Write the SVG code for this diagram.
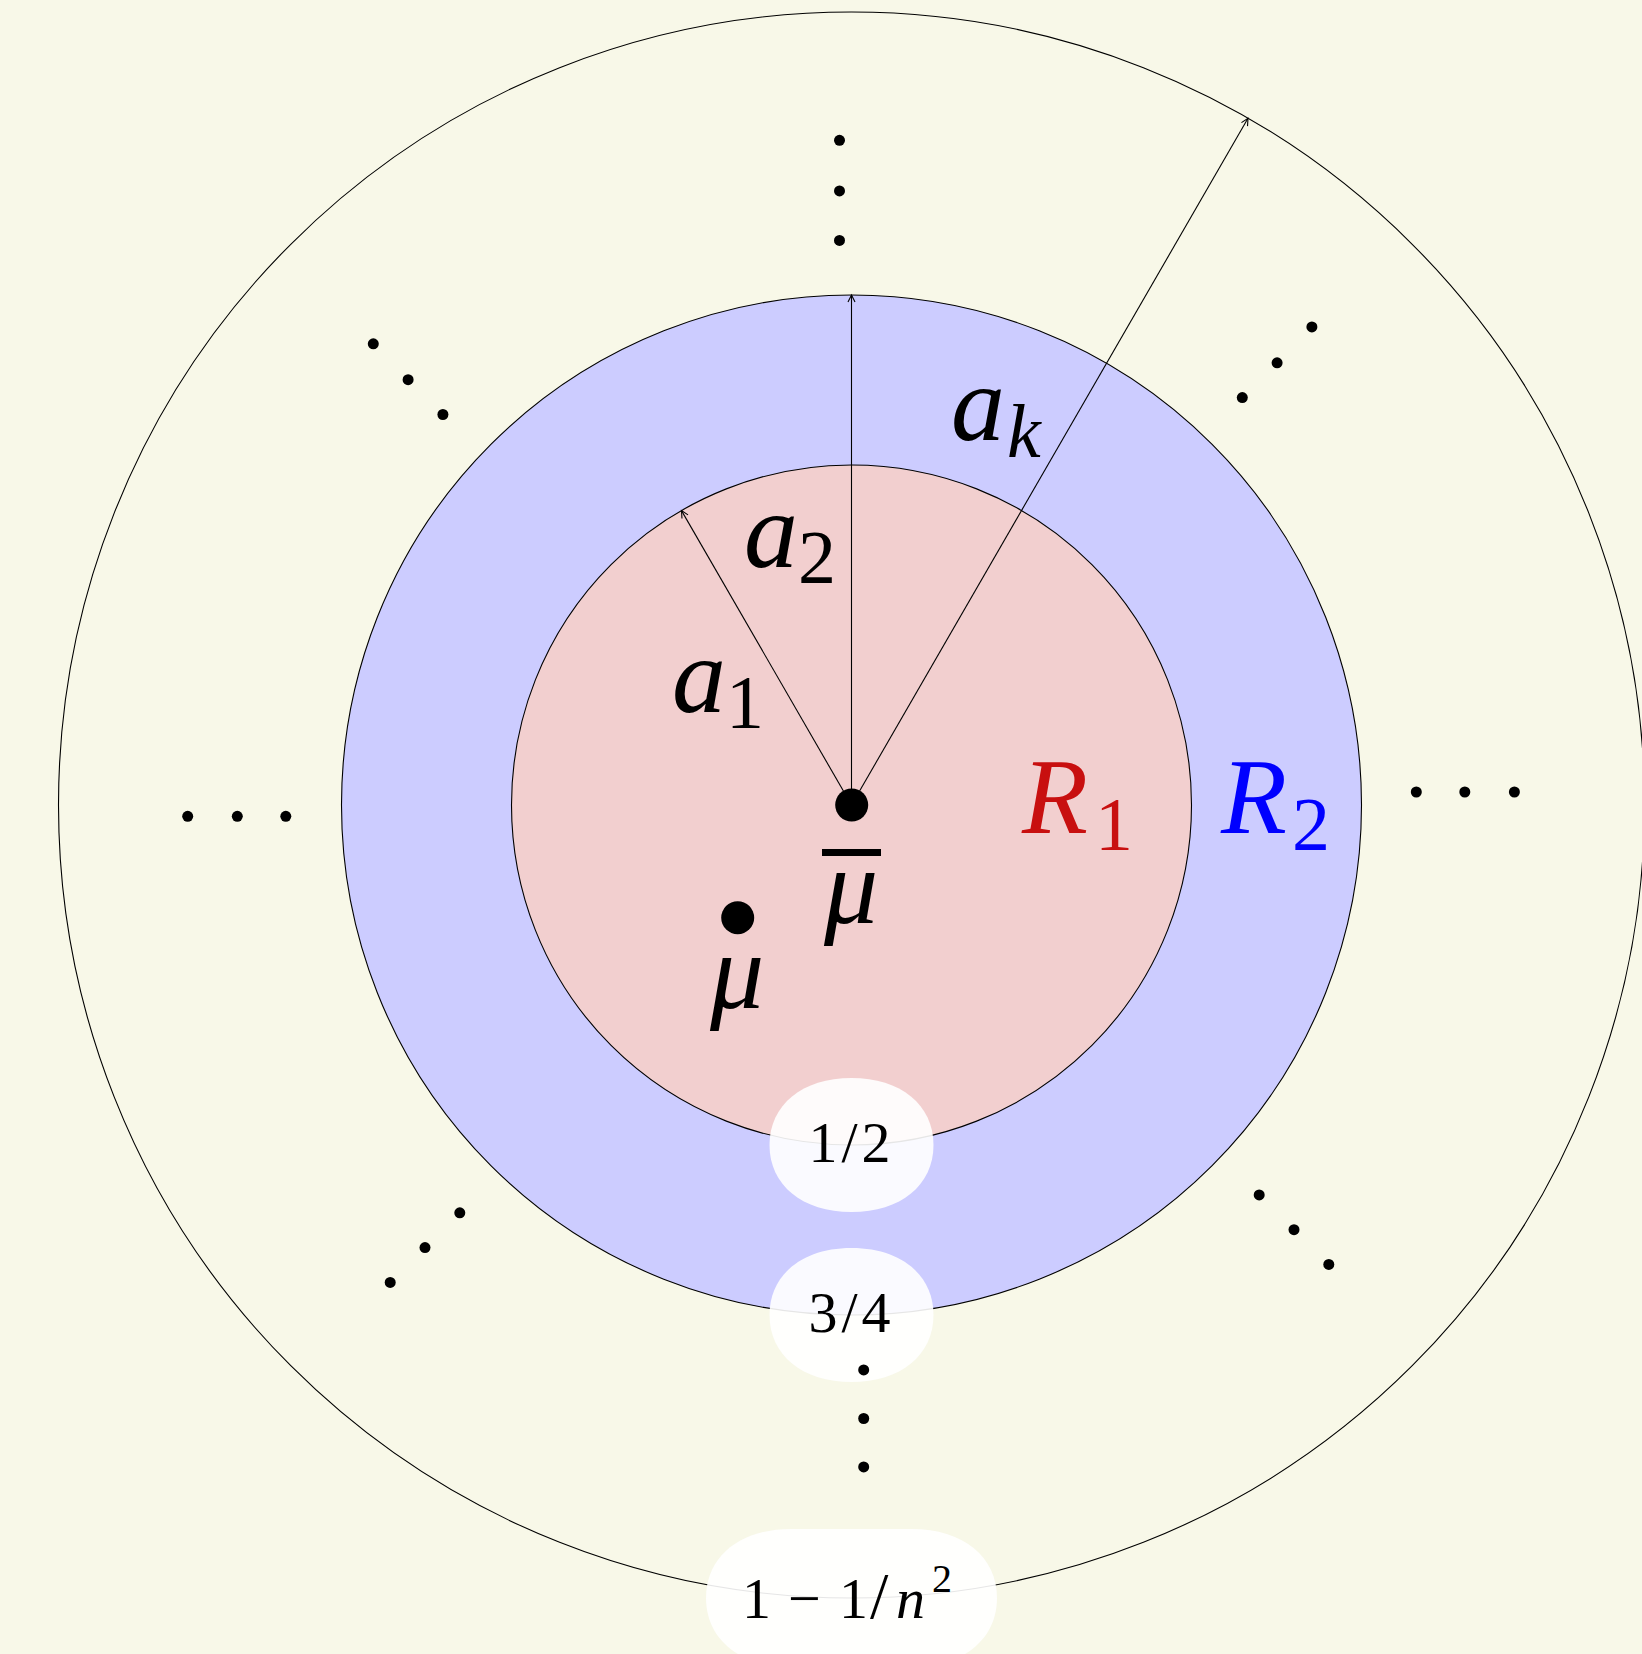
<svg xmlns="http://www.w3.org/2000/svg" width="1642" height="1654" viewBox="0 0 1642 1654">
<defs>
<style>
.ring{stroke:#000;stroke-width:1.1}
.m{font-family:"Liberation Serif","DejaVu Serif",serif;font-style:italic;fill:#000}
.up{font-style:normal}
.dot{fill:#000}
.bub{fill:#fff;fill-opacity:0.9}
.num{font-family:"Liberation Serif","DejaVu Serif",serif;font-size:58px;fill:#000}
.arr{stroke:#000;stroke-width:1.1;fill:none}
</style>
<marker id="ah" markerUnits="userSpaceOnUse" markerWidth="14" markerHeight="14" viewBox="-10 -7 14 14" refX="0" refY="0" orient="auto">
<path d="M-7,-3.5 L0,0 L-7,3.5" fill="none" stroke="#000" stroke-width="1.1"/>
</marker>
</defs>
<rect width="1642" height="1654" fill="#F8F8E8"/>
<g id="outer-circle"><circle class="ring" cx="851.5" cy="805" r="793" fill="none"/></g>
<g id="R2-region"><circle class="ring" cx="851.5" cy="805" r="510" fill="#CCCCFF"/></g>
<g id="R1-region"><circle class="ring" cx="851.5" cy="805" r="340" fill="#F2CFCF"/></g>

<g id="connectors">
<line class="arr" x1="851.5" y1="805" x2="681.5" y2="510.6" marker-end="url(#ah)"/>
<line class="arr" x1="851.5" y1="805" x2="851.5" y2="295" marker-end="url(#ah)"/>
<line class="arr" x1="851.5" y1="805" x2="1248" y2="118.3" marker-end="url(#ah)"/>
</g>

<g id="label-a1"><text class="m" font-size="108" x="672" y="712">a<tspan class="up" font-size="76" dy="16">1</tspan></text></g>
<g id="label-a2"><text class="m" font-size="108" x="744" y="567">a<tspan class="up" font-size="76" dy="16">2</tspan></text></g>
<g id="label-ak"><text class="m" font-size="108" x="951" y="440">a<tspan font-size="76" dx="2" dy="17">k</tspan></text></g>
<g id="label-R1"><text class="m" font-size="108" x="1022" y="833" style="fill:#C80F0F">R<tspan class="up" font-size="76" dx="7" dy="17">1</tspan></text></g>
<g id="label-R2"><text class="m" font-size="108" x="1221" y="833" style="fill:#0000FF">R<tspan class="up" font-size="76" dx="5" dy="17">2</tspan></text></g>

<g id="node-mubar">
<circle class="dot" cx="851.7" cy="805" r="16.5"/>
<rect x="822" y="849" width="59" height="7" fill="#000"/>
<text class="m" font-size="108" x="851" y="923" text-anchor="middle">μ</text>
</g>
<g id="node-mu">
<circle class="dot" cx="737.7" cy="917.7" r="16.5"/>
<text class="m" font-size="108" x="737" y="1008" text-anchor="middle">μ</text>
</g>

<g id="label-half">
<path class="bub" d="M933.5,1145 C933.5,1104.8 900.7,1078 851.5,1078 C802.3,1078 769.5,1104.8 769.5,1145 C769.5,1185.2 802.3,1212 851.5,1212 C900.7,1212 933.5,1185.2 933.5,1145 Z"/>
<text class="num" x="851.5" y="1162" text-anchor="middle" letter-spacing="4">1/2</text>
</g>
<g id="label-threequarter">
<path class="bub" d="M933.5,1315 C933.5,1274.8 900.7,1248 851.5,1248 C802.3,1248 769.5,1274.8 769.5,1315 C769.5,1355.2 802.3,1382 851.5,1382 C900.7,1382 933.5,1355.2 933.5,1315 Z"/>
<text class="num" x="851.5" y="1332" text-anchor="middle" letter-spacing="4">3/4</text>
</g>
<g id="label-outer">
<path class="bub" d="M997,1598 C997,1556.6 963,1529 912,1529 L791,1529 C740,1529 706,1556.6 706,1598 C706,1639.4 740,1667 791,1667 L912,1667 C963,1667 997,1639.4 997,1598 Z"/>
<text class="num" y="1618"><tspan x="742">1</tspan><tspan x="788">−</tspan><tspan x="839">1</tspan><tspan x="870" font-size="66">/</tspan><tspan x="896" font-style="italic">n</tspan><tspan x="932" font-size="40" dy="-26">2</tspan></text>
</g>

<g id="dots-top"><circle class="dot" cx="839.5" cy="140.3" r="5.5"/><circle class="dot" cx="839.5" cy="190.9" r="5.5"/><circle class="dot" cx="839.5" cy="240.4" r="5.5"/></g>
<g id="dots-upper-left"><circle class="dot" cx="373.3" cy="343.8" r="5.5"/><circle class="dot" cx="408.1" cy="379.7" r="5.5"/><circle class="dot" cx="442.9" cy="414.5" r="5.5"/></g>
<g id="dots-upper-right"><circle class="dot" cx="1242.3" cy="397.6" r="5.5"/><circle class="dot" cx="1277.1" cy="362.8" r="5.5"/><circle class="dot" cx="1311.9" cy="326.9" r="5.5"/></g>
<g id="dots-left"><circle class="dot" cx="187.7" cy="816.3" r="5.5"/><circle class="dot" cx="237.3" cy="816.3" r="5.5"/><circle class="dot" cx="285.8" cy="816.3" r="5.5"/></g>
<g id="dots-right"><circle class="dot" cx="1416.3" cy="792" r="5.5"/><circle class="dot" cx="1464.8" cy="792" r="5.5"/><circle class="dot" cx="1514.4" cy="792" r="5.5"/></g>
<g id="dots-lower-left"><circle class="dot" cx="390.2" cy="1282.4" r="5.5"/><circle class="dot" cx="425" cy="1247.6" r="5.5"/><circle class="dot" cx="459.8" cy="1212.8" r="5.5"/></g>
<g id="dots-lower-right"><circle class="dot" cx="1259.2" cy="1194.9" r="5.5"/><circle class="dot" cx="1294" cy="1229.7" r="5.5"/><circle class="dot" cx="1328.8" cy="1264.4" r="5.5"/></g>
<g id="dots-bottom"><circle class="dot" cx="863.7" cy="1369.9" r="5.5"/><circle class="dot" cx="863.7" cy="1418.5" r="5.5"/><circle class="dot" cx="863.7" cy="1466.9" r="5.5"/></g>
</svg>
